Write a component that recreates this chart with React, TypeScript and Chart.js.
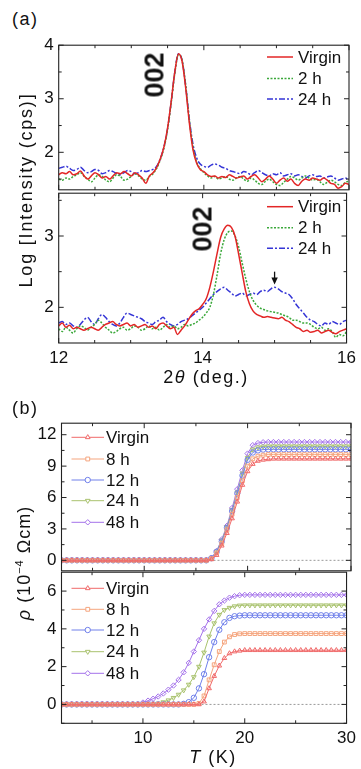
import React, { useEffect, useRef } from 'react';
import { Chart, registerables } from 'chart.js';

Chart.register(...registerables);

const FONT = '"Liberation Sans", Arial, Helvetica, sans-serif';

// ---------------- (a) XRD data ----------------
const XRD_X = [
  12, 12.05, 12.1, 12.15, 12.2, 12.25, 12.3, 12.35, 12.4, 12.45,
  12.5, 12.55, 12.6, 12.65, 12.7, 12.75, 12.8, 12.85, 12.9, 12.95,
  13, 13.05, 13.1, 13.15, 13.2, 13.25, 13.3, 13.35, 13.4, 13.45,
  13.5, 13.55, 13.6, 13.65, 13.7, 13.75, 13.8, 13.85, 13.9, 13.95,
  14, 14.05, 14.1, 14.15, 14.2, 14.25, 14.3, 14.35, 14.4, 14.45,
  14.5, 14.55, 14.6, 14.65, 14.7, 14.75, 14.8, 14.85, 14.9, 14.95,
  15, 15.05, 15.1, 15.15, 15.2, 15.25, 15.3, 15.35, 15.4, 15.45,
  15.5, 15.55, 15.6, 15.65, 15.7, 15.75, 15.8, 15.85, 15.9, 15.95,
  16,
];

const A_TOP_VIRGIN = [
  1.58, 1.62, 1.6, 1.64, 1.58, 1.6, 1.65, 1.56, 1.5, 1.56,
  1.62, 1.58, 1.52, 1.55, 1.5, 1.56, 1.62, 1.6, 1.64, 1.6,
  1.56, 1.62, 1.58, 1.52, 1.42, 1.56, 1.62, 1.72, 1.88, 2.1,
  2.45, 2.95, 3.5, 3.84, 3.7, 3.2, 2.55, 2.05, 1.8, 1.68,
  1.64, 1.58, 1.55, 1.56, 1.52, 1.55, 1.53, 1.58, 1.55, 1.52,
  1.54, 1.56, 1.5, 1.55, 1.58, 1.52, 1.45, 1.5, 1.56, 1.5,
  1.42, 1.48, 1.52, 1.46, 1.5, 1.42, 1.38, 1.46, 1.5, 1.48,
  1.52, 1.5, 1.48, 1.52, 1.48, 1.42, 1.4, 1.33, 1.36, 1.42,
  1.4,
];
const A_TOP_2H = [
  1.5, 1.48, 1.52, 1.5, 1.55, 1.58, 1.62, 1.55, 1.5, 1.45,
  1.52, 1.58, 1.55, 1.48, 1.45, 1.52, 1.58, 1.55, 1.48, 1.5,
  1.55, 1.6, 1.56, 1.5, 1.48, 1.55, 1.6, 1.7, 1.86, 2.08,
  2.42, 2.92, 3.48, 3.82, 3.72, 3.25, 2.6, 2.1, 1.82, 1.7,
  1.62, 1.56, 1.52, 1.55, 1.5, 1.52, 1.55, 1.5, 1.48, 1.52,
  1.55, 1.5, 1.46, 1.52, 1.48, 1.42, 1.4, 1.46, 1.5, 1.45,
  1.4, 1.38, 1.44, 1.5, 1.55, 1.52, 1.48, 1.52, 1.56, 1.52,
  1.48, 1.5, 1.45, 1.4, 1.44, 1.48, 1.45, 1.4, 1.38, 1.44,
  1.46,
];
const A_TOP_24H = [
  1.7, 1.72, 1.74, 1.7, 1.66, 1.68, 1.72, 1.66, 1.62, 1.64,
  1.68, 1.66, 1.6, 1.62, 1.66, 1.64, 1.6, 1.58, 1.62, 1.66,
  1.64, 1.6, 1.62, 1.66, 1.64, 1.66, 1.68, 1.74, 1.88, 2.1,
  2.44, 2.94, 3.5, 3.84, 3.72, 3.24, 2.62, 2.15, 1.9, 1.78,
  1.74, 1.72, 1.76, 1.78, 1.76, 1.72, 1.7, 1.66, 1.64, 1.62,
  1.6, 1.64, 1.62, 1.58, 1.62, 1.66, 1.62, 1.58, 1.56, 1.6,
  1.58, 1.62, 1.56, 1.58, 1.6, 1.56, 1.58, 1.55, 1.52, 1.56,
  1.58, 1.55, 1.56, 1.52, 1.54, 1.56, 1.52, 1.48, 1.5, 1.52,
  1.48,
];

const A_BOT_VIRGIN = [
  1.74, 1.78, 1.72, 1.75, 1.7, 1.72, 1.7, 1.68, 1.7, 1.72,
  1.7, 1.68, 1.72, 1.76, 1.78, 1.8, 1.76, 1.74, 1.76, 1.78,
  1.74, 1.76, 1.72, 1.74, 1.76, 1.72, 1.74, 1.7, 1.76, 1.78,
  1.74, 1.7, 1.72, 1.62, 1.68, 1.74, 1.82, 1.9, 1.95, 1.98,
  2.04, 2.12, 2.28, 2.5, 2.75, 2.98, 3.1, 3.15, 3.12, 3.0,
  2.75, 2.48, 2.22, 2.05, 1.95, 1.9, 1.88, 1.86, 1.87, 1.86,
  1.85, 1.84, 1.86, 1.82, 1.8, 1.76, 1.72, 1.7, 1.66, 1.68,
  1.65, 1.66, 1.68, 1.64, 1.66, 1.68, 1.65, 1.63, 1.66, 1.68,
  1.7,
];
const A_BOT_2H = [
  1.7, 1.66, 1.72, 1.68, 1.64, 1.7, 1.74, 1.72, 1.68, 1.72,
  1.76, 1.82, 1.78, 1.72, 1.68, 1.64, 1.66, 1.7, 1.72, 1.68,
  1.7, 1.74, 1.72, 1.68, 1.7, 1.74, 1.7, 1.72, 1.68, 1.72,
  1.76, 1.72, 1.74, 1.7, 1.72, 1.76, 1.74, 1.76, 1.78, 1.82,
  1.86, 1.92, 2.0, 2.18, 2.45, 2.75, 2.95, 3.05, 3.07, 3.0,
  2.85, 2.62, 2.4, 2.22, 2.1, 2.03, 1.99, 1.97, 1.95, 1.94,
  1.93, 1.92, 1.9, 1.88, 1.86, 1.82, 1.82, 1.8, 1.78, 1.78,
  1.76, 1.72, 1.7, 1.72, 1.68, 1.7, 1.66, 1.58, 1.62, 1.6,
  1.66,
];
const A_BOT_24H = [
  1.78, 1.8, 1.76, 1.78, 1.74, 1.72, 1.76, 1.82, 1.86, 1.8,
  1.76, 1.84, 1.9, 1.86, 1.8, 1.76, 1.74, 1.78, 1.86, 1.92,
  1.9, 1.88, 1.86, 1.84, 1.8, 1.78, 1.76, 1.8, 1.82, 1.86,
  1.8, 1.76, 1.74, 1.76, 1.8, 1.82, 1.84, 1.88, 1.92, 1.96,
  2.0, 2.06, 2.12, 2.18, 2.22, 2.26, 2.28, 2.24, 2.2, 2.16,
  2.18, 2.2, 2.16, 2.18, 2.2, 2.18, 2.22, 2.24, 2.22, 2.26,
  2.28, 2.26, 2.22, 2.2, 2.18, 2.12, 2.04, 1.98, 1.92, 1.86,
  1.82, 1.8, 1.76, 1.74, 1.78, 1.76, 1.8, 1.78, 1.76, 1.8,
  1.82,
];

const XRD_LEGEND = ['Virgin', '2 h', '24 h'];
const A_X_LABELS = [12, 14, 16];
const A_X_MINOR = [12.5, 13, 13.5, 14.5, 15, 15.5];
const A_TOP_Y_LABELS = [2, 3, 4];
const A_TOP_Y_MINOR = [1.5, 2.5, 3.5];
const A_BOT_Y_LABELS = [2, 3];
const A_BOT_Y_MINOR = [2.5, 3.5];

// ---------------- (b) resistivity data ----------------
const T_K = [
  2, 2.5, 3, 3.5, 4, 4.5, 5, 5.5, 6, 6.5,
  7, 7.5, 8, 8.5, 9, 9.5, 10, 10.5, 11, 11.5,
  12, 12.5, 13, 13.5, 14, 14.5, 15, 15.5, 16, 16.5,
  17, 17.5, 18, 18.5, 19, 19.5, 20, 20.5, 21, 21.5,
  22, 22.5, 23, 23.5, 24, 24.5, 25, 25.5, 26, 26.5,
  27, 27.5, 28, 28.5, 29, 29.5, 30,
];

const B_TOP_VIRGIN = [
  0, 0, 0, 0, 0, 0, 0, 0, 0, 0,
  0, 0, 0, 0, 0, 0, 0, 0, 0, 0,
  0, 0, 0, 0, 0, 0, 0, 0, 0, 0.1,
  0.5, 1.4, 2.6, 4.0, 5.6, 7.2, 8.5, 9.2, 9.5, 9.6,
  9.65, 9.7, 9.7, 9.7, 9.7, 9.7, 9.7, 9.7, 9.7, 9.7,
  9.7, 9.7, 9.7, 9.7, 9.7, 9.7, 9.7,
];
const B_TOP_8H = [
  0, 0, 0, 0, 0, 0, 0, 0, 0, 0,
  0, 0, 0, 0, 0, 0, 0, 0, 0, 0,
  0, 0, 0, 0, 0, 0, 0, 0, 0, 0.15,
  0.7, 1.6, 2.9, 4.4, 6.0, 7.6, 9.0, 9.7, 9.95, 10.05,
  10.1, 10.1, 10.1, 10.1, 10.1, 10.1, 10.1, 10.1, 10.1, 10.1,
  10.1, 10.1, 10.1, 10.1, 10.1, 10.1, 10.1,
];
const B_TOP_12H = [
  0, 0, 0, 0, 0, 0, 0, 0, 0, 0,
  0, 0, 0, 0, 0, 0, 0, 0, 0, 0,
  0, 0, 0, 0, 0, 0, 0, 0, 0, 0.2,
  0.8, 1.8, 3.1, 4.7, 6.4, 8.1, 9.6, 10.3, 10.5, 10.58,
  10.6, 10.6, 10.6, 10.6, 10.6, 10.6, 10.6, 10.6, 10.6, 10.6,
  10.6, 10.6, 10.6, 10.6, 10.6, 10.6, 10.6,
];
const B_TOP_24H = [
  0, 0, 0, 0, 0, 0, 0, 0, 0, 0,
  0, 0, 0, 0, 0, 0, 0, 0, 0, 0,
  0, 0, 0, 0, 0, 0, 0, 0, 0, 0.2,
  0.85, 1.9, 3.2, 4.8, 6.5, 8.3, 9.8, 10.6, 10.8, 10.88,
  10.9, 10.9, 10.9, 10.9, 10.9, 10.9, 10.9, 10.9, 10.9, 10.9,
  10.9, 10.9, 10.9, 10.9, 10.9, 10.9, 10.9,
];
const B_TOP_48H = [
  0, 0, 0, 0, 0, 0, 0, 0, 0, 0,
  0, 0, 0, 0, 0, 0, 0, 0, 0, 0,
  0, 0, 0, 0, 0, 0, 0, 0, 0, 0.25,
  0.9, 2.0, 3.3, 5.0, 6.8, 8.6, 10.2, 11.0, 11.2, 11.28,
  11.3, 11.3, 11.3, 11.3, 11.3, 11.3, 11.3, 11.3, 11.3, 11.3,
  11.3, 11.3, 11.3, 11.3, 11.3, 11.3, 11.3,
];

const B_BOT_VIRGIN = [
  0, 0, 0, 0, 0, 0, 0, 0, 0, 0,
  0, 0, 0, 0, 0, 0, 0, 0, 0, 0,
  0, 0, 0, 0, 0, 0, 0, 0, 0.15, 0.85,
  1.5, 2.05, 2.45, 2.7, 2.8, 2.84, 2.87, 2.87, 2.87, 2.87,
  2.87, 2.87, 2.87, 2.87, 2.87, 2.87, 2.87, 2.87, 2.87, 2.87,
  2.87, 2.87, 2.87, 2.87, 2.87, 2.87, 2.87,
];
const B_BOT_8H = [
  0, 0, 0, 0, 0, 0, 0, 0, 0, 0,
  0, 0, 0, 0, 0, 0, 0, 0, 0, 0,
  0, 0, 0, 0, 0, 0, 0, 0.05, 0.45, 1.3,
  2.1, 2.8, 3.3, 3.58, 3.7, 3.74, 3.75, 3.75, 3.75, 3.75,
  3.75, 3.75, 3.75, 3.75, 3.75, 3.75, 3.75, 3.75, 3.75, 3.75,
  3.75, 3.75, 3.75, 3.75, 3.75, 3.75, 3.75,
];
const B_BOT_12H = [
  0, 0, 0, 0, 0, 0, 0, 0, 0, 0,
  0, 0, 0, 0, 0, 0, 0, 0, 0, 0,
  0, 0, 0, 0, 0.03, 0.12, 0.35, 0.85, 1.6, 2.5,
  3.3, 3.95, 4.35, 4.58, 4.67, 4.7, 4.72, 4.72, 4.72, 4.72,
  4.72, 4.72, 4.72, 4.72, 4.72, 4.72, 4.72, 4.72, 4.72, 4.72,
  4.72, 4.72, 4.72, 4.72, 4.72, 4.72, 4.72,
];
const B_BOT_24H = [
  0, 0, 0, 0, 0, 0, 0, 0, 0, 0,
  0, 0, 0, 0, 0, 0, 0, 0, 0, 0.05,
  0.12, 0.22, 0.35, 0.52, 0.75, 1.05, 1.45, 2.0, 2.75, 3.6,
  4.3, 4.75, 5.0, 5.12, 5.2, 5.24, 5.25, 5.25, 5.25, 5.25,
  5.25, 5.25, 5.25, 5.25, 5.25, 5.25, 5.25, 5.25, 5.25, 5.25,
  5.25, 5.25, 5.25, 5.25, 5.25, 5.25, 5.25,
];
const B_BOT_48H = [
  0, 0, 0, 0, 0, 0, 0, 0, 0, 0,
  0, 0, 0, 0, 0, 0, 0.1, 0.2, 0.3, 0.42,
  0.58, 0.78, 1.0, 1.3, 1.7, 2.2, 2.8, 3.4, 4.0, 4.5,
  4.95, 5.3, 5.5, 5.65, 5.73, 5.78, 5.8, 5.8, 5.8, 5.8,
  5.8, 5.8, 5.8, 5.8, 5.8, 5.8, 5.8, 5.8, 5.8, 5.8,
  5.8, 5.8, 5.8, 5.8, 5.8, 5.8, 5.8,
];

const B_LEGEND = ['Virgin', '8 h', '12 h', '24 h', '48 h'];
const B_X_LABELS = [10, 20, 30];
const B_X_MINOR = [5, 15, 25];
const B_TOP_Y_LABELS = [0, 3, 6, 9, 12];
const B_TOP_Y_MINOR = [1.5, 4.5, 7.5, 10.5];
const B_BOT_Y_LABELS = [0, 2, 4, 6];
const B_BOT_Y_MINOR = [-1, 1, 3, 5];

// ---------------- styles ----------------
const XRD_STYLES = [
  { color: '#e32626', dash: [] as number[], width: 1.5 },
  { color: '#3aa83a', dash: [2, 1.5], width: 1.5 },
  { color: '#3535d6', dash: [6, 2, 2, 2], width: 1.5 },
];
const RHO_STYLES = [
  { color: '#f06a6a', style: 'triangle', rot: 0 },
  { color: '#f5a57e', style: 'rect', rot: 0 },
  { color: '#7080ea', style: 'circle', rot: 0 },
  { color: '#a9c26e', style: 'triangle', rot: 180 },
  { color: '#a472ea', style: 'rectRot', rot: 0 },
];

function xrdDatasets(series: number[][]) {
  return series.map((ys, k) => ({
    label: XRD_LEGEND[k],
    data: XRD_X.map((x, i) => ({ x, y: ys[i] })),
    borderColor: XRD_STYLES[k].color,
    borderWidth: XRD_STYLES[k].width,
    borderDash: XRD_STYLES[k].dash,
    pointRadius: 0,
    cubicInterpolationMode: 'monotone',
    fill: false,
  }));
}

function rhoDatasets(series: number[][]) {
  return series.map((ys, k) => ({
    label: B_LEGEND[k],
    data: T_K.map((x, i) => ({ x, y: ys[i] })),
    borderColor: RHO_STYLES[k].color,
    borderWidth: 1,
    pointStyle: RHO_STYLES[k].style,
    pointRotation: RHO_STYLES[k].rot,
    pointRadius: 2.7,
    pointBorderWidth: 1,
    pointBorderColor: RHO_STYLES[k].color,
    pointBackgroundColor: 'rgba(255,255,255,0)',
    tension: 0,
    fill: false,
  }));
}

function drawMarker(ctx: CanvasRenderingContext2D, style: string, x: number, y: number, r: number, rot: number) {
  ctx.beginPath();
  if (style === 'circle') {
    ctx.arc(x, y, r, 0, Math.PI * 2);
  } else if (style === 'rect') {
    const s = Math.SQRT1_2 * r;
    ctx.rect(x - s, y - s, 2 * s, 2 * s);
  } else if (style === 'rectRot') {
    ctx.moveTo(x, y - r);
    ctx.lineTo(x + r, y);
    ctx.lineTo(x, y + r);
    ctx.lineTo(x - r, y);
    ctx.closePath();
  } else {
    const d = rot === 180 ? -1 : 1;
    ctx.moveTo(x, y - d * r);
    ctx.lineTo(x + 0.866 * r, y + d * 0.5 * r);
    ctx.lineTo(x - 0.866 * r, y + d * 0.5 * r);
    ctx.closePath();
  }
  ctx.fill();
  ctx.stroke();
}

interface LegendCfg {
  kind: 'xrd' | 'rho';
  x0: number;
  x1: number;
  tx: number;
  ys: number[];
}

interface PanelCfg {
  top: number;
  height: number;
  area: { l: number; r: number; t: number; b: number };
  xRange: [number, number];
  yRange: [number, number];
  xLabels: number[] | null;
  xMajor: number[];
  xMinor: number[];
  yLabels: number[];
  yMinor: number[];
  datasets: any[];
  legend: LegendCfg;
  zeroLine?: boolean;
  arrow?: { x: number; yFrom: number; yTo: number };
}

const W = 361;
const X_AXIS_H = 28;

function Panel({ cfg }: { cfg: PanelCfg }) {
  const ref = useRef<HTMLCanvasElement | null>(null);
  useEffect(() => {
    const canvas = ref.current;
    if (!canvas) return;
    const a = cfg.area;
    const xh = cfg.xLabels ? X_AXIS_H : 0;
    const plugin = {
      id: 'frameTicks',
      beforeDatasetsDraw(chart: any) {
        if (!cfg.zeroLine) return;
        const { ctx, chartArea: ca, scales } = chart;
        const py = scales.y.getPixelForValue(0);
        ctx.save();
        ctx.strokeStyle = '#9a9a9a';
        ctx.lineWidth = 1;
        ctx.setLineDash([2, 2]);
        ctx.beginPath();
        ctx.moveTo(ca.left, py);
        ctx.lineTo(ca.right, py);
        ctx.stroke();
        ctx.restore();
      },
      afterDraw(chart: any) {
        const { ctx, chartArea: ca, scales } = chart;
        const xs = scales.x;
        const ys = scales.y;
        ctx.save();
        ctx.setLineDash([]);
        ctx.strokeStyle = '#222';
        ctx.lineWidth = 1.1;
        ctx.strokeRect(ca.left, ca.top, ca.right - ca.left, ca.bottom - ca.top);
        const tick = (px: number, py: number, dx: number, dy: number) => {
          ctx.beginPath();
          ctx.moveTo(px, py);
          ctx.lineTo(px + dx, py + dy);
          ctx.stroke();
        };
        ctx.lineWidth = 1;
        cfg.xMajor.forEach((v) => {
          const p = xs.getPixelForValue(v);
          tick(p, ca.bottom, 0, -5);
          tick(p, ca.top, 0, 5);
        });
        cfg.xMinor.forEach((v) => {
          const p = xs.getPixelForValue(v);
          tick(p, ca.bottom, 0, -3);
          tick(p, ca.top, 0, 3);
        });
        cfg.yLabels.forEach((v) => {
          const p = ys.getPixelForValue(v);
          tick(ca.left, p, 5, 0);
          tick(ca.right, p, -5, 0);
        });
        cfg.yMinor.forEach((v) => {
          const p = ys.getPixelForValue(v);
          tick(ca.left, p, 3, 0);
          tick(ca.right, p, -3, 0);
        });

        // legend
        const lg = cfg.legend;
        ctx.font = `17px ${FONT}`;
        ctx.textBaseline = 'middle';
        ctx.textAlign = 'left';
        lg.ys.forEach((yy, i) => {
          const y = yy - cfg.top;
          if (lg.kind === 'xrd') {
            const st = XRD_STYLES[i];
            ctx.strokeStyle = st.color;
            ctx.lineWidth = st.width;
            ctx.setLineDash(st.dash);
            ctx.beginPath();
            ctx.moveTo(lg.x0, y);
            ctx.lineTo(lg.x1, y);
            ctx.stroke();
            ctx.setLineDash([]);
            ctx.fillStyle = '#111';
            ctx.fillText(XRD_LEGEND[i], lg.tx, y + 1);
          } else {
            const st = RHO_STYLES[i];
            ctx.strokeStyle = st.color;
            ctx.lineWidth = 1;
            ctx.setLineDash([]);
            ctx.beginPath();
            ctx.moveTo(lg.x0, y);
            ctx.lineTo(lg.x1, y);
            ctx.stroke();
            ctx.fillStyle = '#fff';
            drawMarker(ctx, st.style, (lg.x0 + lg.x1) / 2, y, 2.7, st.rot);
            ctx.fillStyle = '#111';
            ctx.fillText(B_LEGEND[i], lg.tx, y + 1);
          }
        });

        // arrow
        if (cfg.arrow) {
          const px = xs.getPixelForValue(cfg.arrow.x);
          const p0 = ys.getPixelForValue(cfg.arrow.yFrom);
          const p1 = ys.getPixelForValue(cfg.arrow.yTo);
          ctx.strokeStyle = '#111';
          ctx.fillStyle = '#111';
          ctx.lineWidth = 1.3;
          ctx.beginPath();
          ctx.moveTo(px, p0);
          ctx.lineTo(px, p1 - 5);
          ctx.stroke();
          ctx.beginPath();
          ctx.moveTo(px, p1);
          ctx.lineTo(px - 3.2, p1 - 7);
          ctx.lineTo(px + 3.2, p1 - 7);
          ctx.closePath();
          ctx.fill();
        }
        ctx.restore();
      },
    };

    const tickFont = { family: FONT, size: 17 };
    const chart = new Chart(canvas, {
      type: 'line',
      data: { datasets: cfg.datasets },
      options: {
        responsive: false,
        animation: false,
        events: [],
        layout: {
          padding: {
            left: 0,
            right: W - a.r,
            top: a.t - cfg.top,
            bottom: cfg.top + cfg.height - a.b - xh,
          },
        },
        plugins: {
          legend: { display: false },
          tooltip: { enabled: false },
        },
        scales: {
          x: {
            type: 'linear',
            min: cfg.xRange[0],
            max: cfg.xRange[1],
            display: !!cfg.xLabels,
            grid: { display: false, drawTicks: false },
            border: { display: false },
            ticks: {
              font: tickFont,
              color: '#111',
              padding: 5,
              maxRotation: 0,
              autoSkip: false,
              callback: (v: any) => String(v),
            },
            afterBuildTicks: (s: any) => {
              s.ticks = (cfg.xLabels || []).map((v) => ({ value: v }));
            },
            afterFit: (s: any) => {
              s.height = xh;
            },
          },
          y: {
            type: 'linear',
            min: cfg.yRange[0],
            max: cfg.yRange[1],
            grid: { display: false, drawTicks: false },
            border: { display: false },
            ticks: {
              font: tickFont,
              color: '#111',
              padding: 5,
              autoSkip: false,
              callback: (v: any) => String(v),
            },
            afterBuildTicks: (s: any) => {
              s.ticks = cfg.yLabels.map((v) => ({ value: v }));
            },
            afterFit: (s: any) => {
              s.width = a.l;
            },
          },
        },
      } as any,
      plugins: [plugin as any],
    });
    return () => chart.destroy();
  }, [cfg]);

  return (
    <canvas
      ref={ref}
      width={W}
      height={cfg.height}
      style={{ position: 'absolute', left: 0, top: cfg.top, width: W, height: cfg.height }}
    />
  );
}

const PANEL_A1: PanelCfg = {
  top: 30,
  height: 175,
  area: { l: 58.7, r: 349, t: 42, b: 192 },
  xRange: [12, 16],
  yRange: [1.3, 4.0],
  xLabels: null,
  xMajor: A_X_LABELS,
  xMinor: A_X_MINOR,
  yLabels: A_TOP_Y_LABELS,
  yMinor: A_TOP_Y_MINOR,
  datasets: xrdDatasets([A_TOP_VIRGIN, A_TOP_2H, A_TOP_24H]),
  legend: { kind: 'xrd', x0: 267, x1: 293, tx: 298, ys: [57, 78.5, 99] },
};

const PANEL_A2: PanelCfg = {
  top: 178,
  height: 207,
  area: { l: 58.7, r: 349, t: 192, b: 343 },
  xRange: [12, 16],
  yRange: [1.5, 3.6],
  xLabels: A_X_LABELS,
  xMajor: A_X_LABELS,
  xMinor: A_X_MINOR,
  yLabels: A_BOT_Y_LABELS,
  yMinor: A_BOT_Y_MINOR,
  datasets: xrdDatasets([A_BOT_VIRGIN, A_BOT_2H, A_BOT_24H]),
  legend: { kind: 'xrd', x0: 267, x1: 293, tx: 298, ys: [206.7, 227.7, 248.3] },
  arrow: { x: 15, yFrom: 2.5, yTo: 2.32 },
};

const PANEL_B1: PanelCfg = {
  top: 408,
  height: 178,
  area: { l: 61.5, r: 351, t: 421.7, b: 571.5 },
  xRange: [2, 30],
  yRange: [-1, 13.1],
  xLabels: null,
  xMajor: B_X_LABELS,
  xMinor: B_X_MINOR,
  yLabels: B_TOP_Y_LABELS,
  yMinor: B_TOP_Y_MINOR,
  datasets: rhoDatasets([B_TOP_VIRGIN, B_TOP_8H, B_TOP_12H, B_TOP_24H, B_TOP_48H]),
  legend: { kind: 'rho', x0: 71.5, x1: 104, tx: 106, ys: [437.3, 459, 480, 500.7, 522.3] },
  zeroLine: true,
};

const PANEL_B2: PanelCfg = {
  top: 557,
  height: 212,
  area: { l: 61.5, r: 351, t: 571.5, b: 723.3 },
  xRange: [2, 30],
  yRange: [-1, 7],
  xLabels: B_X_LABELS,
  xMajor: B_X_LABELS,
  xMinor: B_X_MINOR,
  yLabels: B_BOT_Y_LABELS,
  yMinor: B_BOT_Y_MINOR,
  datasets: rhoDatasets([B_BOT_VIRGIN, B_BOT_8H, B_BOT_12H, B_BOT_24H, B_BOT_48H]),
  legend: { kind: 'rho', x0: 71.5, x1: 104, tx: 106, ys: [588.3, 609.3, 630, 651.7, 673.3] },
  zeroLine: true,
};

const txt = (extra: React.CSSProperties): React.CSSProperties => ({
  position: 'absolute',
  fontFamily: FONT,
  color: '#111',
  whiteSpace: 'nowrap',
  lineHeight: 1,
  ...extra,
});

const CENTER = 'translate(-50%, -50%)';
const CENTER_ROT = 'translate(-50%, -50%) rotate(-90deg)';

export default function App() {
  return (
    <div style={{ position: 'absolute', left: 0, top: 0, width: W, height: 769, background: '#fff', overflow: 'hidden' }}>
      <Panel cfg={PANEL_A1} />
      <Panel cfg={PANEL_A2} />
      <Panel cfg={PANEL_B1} />
      <Panel cfg={PANEL_B2} />

      <div style={txt({ left: 12, top: 10, fontSize: 18, letterSpacing: 1.5 })}>(a)</div>
      <div style={txt({ left: 12, top: 399, fontSize: 18, letterSpacing: 1.5 })}>(b)</div>

      <div style={txt({ left: 26, top: 190, fontSize: 18, letterSpacing: 1.8, transform: CENTER_ROT })}>
        Log [Intensity (cps)]
      </div>
      <div style={txt({ left: 206, top: 377, fontSize: 18, letterSpacing: 1.5, transform: CENTER })}>
        2<span style={{ fontStyle: 'italic' }}>θ</span> (deg.)
      </div>

      <div style={txt({ left: 24, top: 563, fontSize: 18, letterSpacing: 1, transform: CENTER_ROT })}>
        <span style={{ fontStyle: 'italic' }}>ρ</span> (10
        <span style={{ fontSize: 11, position: 'relative', top: -7 }}>−4</span> Ωcm)
      </div>
      <div style={txt({ left: 213, top: 757, fontSize: 18, letterSpacing: 1.5, transform: CENTER })}>
        <span style={{ fontStyle: 'italic' }}>T</span> (K)
      </div>

      <div style={txt({ left: 155, top: 75, fontSize: 27, fontWeight: 'bold', transform: CENTER_ROT })}>002</div>
      <div style={txt({ left: 203, top: 229, fontSize: 27, fontWeight: 'bold', transform: CENTER_ROT })}>002</div>
    </div>
  );
}
